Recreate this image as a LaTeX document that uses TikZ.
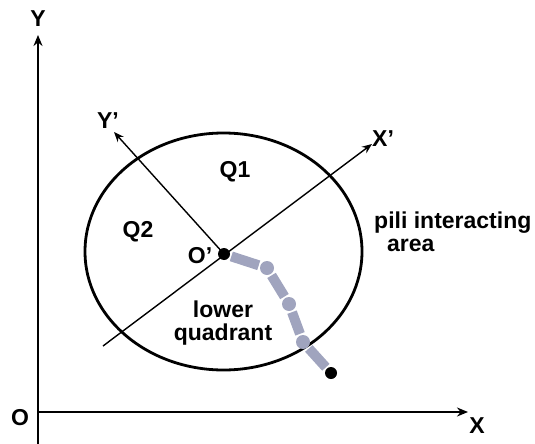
\documentclass[tikz,border=0pt]{standalone}
\usepackage{fontspec}
\setmainfont{Liberation Sans}
\usepackage{xcolor}
\usepackage{tikz}
\usetikzlibrary{arrows.meta}
\definecolor{piligray}{RGB}{160,164,190}
\tikzstyle{axis}=[line width=2pt, -{Stealth[length=11pt,width=9pt]}]
\tikzstyle{subaxis}=[line width=1.4pt, -{Stealth[length=10pt,width=8pt]}]
\tikzstyle{lbl}=[font=\fontsize{23}{23}\selectfont\bfseries, inner sep=0pt]
\tikzstyle{bead}=[circle, fill=piligray, minimum size=14pt, inner sep=0pt]
\tikzstyle{knob}=[circle, fill=black, minimum size=12pt, inner sep=0pt]
\tikzstyle{pilus}=[line width=10pt, piligray, shorten <=1.5pt, shorten >=1.5pt]

\begin{document}
\begin{tikzpicture}[x=1pt, y=-1pt]
    \useasboundingbox (0,0) rectangle (535,444);

    % Fixed frame: O, X and Y
    \coordinate (orig) at (38,412);
    \coordinate (ybot) at (38,444);
    \coordinate (ytop) at (38,35);
    \coordinate (xend) at (468,412);
    \draw[axis] (ybot) -- (ytop);
    \draw[axis] (orig) -- (xend);
    \node[lbl] (ylab) at (38,19) {Y};
    \node[lbl] (xlab) at (477,426) {X};
    \node[lbl] (olab) at (20,418) {O};

    % Moved frame at O' and the interacting area round it
    \node[knob] (oprime) at (224,254) {};
    \draw[line width=2.8pt] (223.5,251.5) ellipse [x radius=138.5, y radius=118.5];
    \coordinate (xpstart) at (103,346);
    \coordinate (xpend) at (372,144);
    \coordinate (ypend) at (114,132);
    \draw[subaxis] (xpstart) -- (xpend);
    \draw[subaxis] (oprime.center) -- (ypend);
    \node[lbl, anchor=west] (xplab) at (372,139) {X’};
    \node[lbl] (yplab) at (108,121) {Y’};
    \node[lbl] (oplab) at (200,256) {O’};

    % Quadrant and area labels
    \node[lbl] (q1) at (235,172) {Q1};
    \node[lbl] (q2) at (138,232) {Q2};
    \node[lbl, align=center] (lower) at (223,323) {lower\\quadrant};
    \node[lbl, align=left, anchor=north west] (pili) at (374,212)
      {pili interacting\\\hspace*{13pt}area};

    % Pilus: segments and beads from O' outwards
    \node[bead] (b1) at (267,268) {};
    \node[bead] (b2) at (289,304) {};
    \node[bead] (b3) at (303,342) {};
    \node[knob] (tip) at (331,373) {};
    \draw[pilus] (oprime) -- (b1);
    \draw[pilus] (b1) -- (b2);
    \draw[pilus] (b2) -- (b3);
    \draw[pilus] (b3) -- (tip);

\end{tikzpicture}
\end{document}
